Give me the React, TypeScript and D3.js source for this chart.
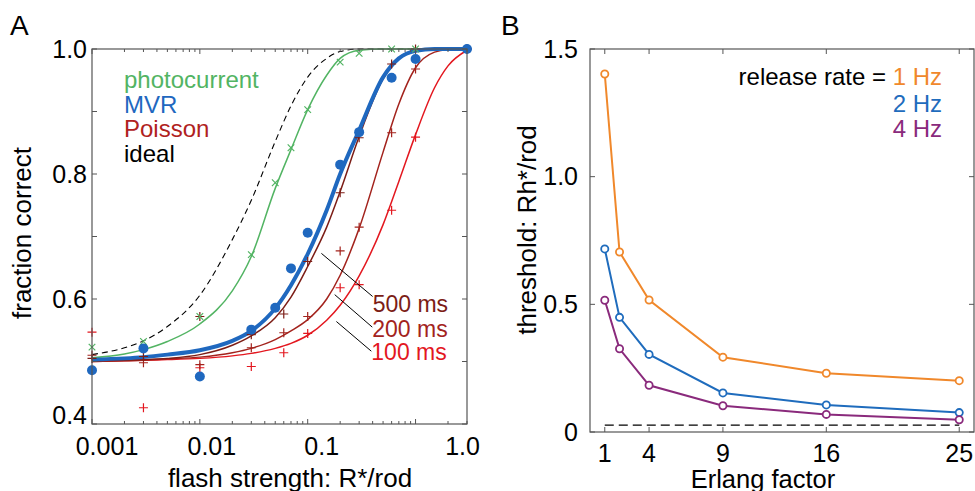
import React from "react";
import * as d3 from "d3";

// ---------- Panel A data ----------
const curveX = [0.001, 0.002, 0.003, 0.005, 0.01, 0.02, 0.03, 0.05, 0.07, 0.1, 0.15, 0.2, 0.3, 0.5, 0.7, 1, 1.5, 2, 3];
const idealCurve = [0.511, 0.522, 0.533, 0.556, 0.606, 0.695, 0.758, 0.852, 0.909, 0.955, 0.985, 0.996, 1, 1, 1, 1, 1, 1, 1];
const photoCurve = [0.506, 0.512, 0.519, 0.532, 0.56, 0.613, 0.668, 0.777, 0.839, 0.903, 0.958, 0.985, 0.998, 1, 1, 1, 1, 1, 1];
const mvrCurve = [0.503, 0.505, 0.507, 0.511, 0.518, 0.533, 0.549, 0.585, 0.622, 0.672, 0.742, 0.8, 0.87, 0.955, 0.985, 0.997, 1, 1, 1];
const p500Curve = [0.501, 0.502, 0.503, 0.505, 0.511, 0.526, 0.541, 0.57, 0.603, 0.652, 0.715, 0.772, 0.86, 0.952, 0.985, 0.998, 1, 1, 1];
const p200Curve = [0.5, 0.501, 0.502, 0.504, 0.507, 0.514, 0.521, 0.535, 0.549, 0.567, 0.6, 0.638, 0.713, 0.835, 0.912, 0.97, 0.995, 0.999, 1];
const p100Curve = [0.5, 0.501, 0.502, 0.503, 0.505, 0.509, 0.513, 0.521, 0.529, 0.542, 0.566, 0.59, 0.637, 0.719, 0.788, 0.863, 0.938, 0.973, 0.998];

const mvrX = [0.001, 0.003, 0.01, 0.03, 0.05, 0.07, 0.1, 0.2, 0.3, 0.6, 1, 3];
const mvrY = [0.486, 0.521, 0.476, 0.551, 0.586, 0.649, 0.706, 0.815, 0.867, 0.954, 0.984, 1.0];
const photoX = [0.001, 0.003, 0.01, 0.03, 0.05, 0.07, 0.1, 0.2, 0.3, 0.6, 1];
const photoY = [0.523, 0.532, 0.572, 0.671, 0.786, 0.842, 0.903, 0.979, 0.993, 1.0, 1.0];
const poissonX = [0.001, 0.003, 0.01, 0.03, 0.06, 0.1, 0.2, 0.3, 0.6, 1, 3];
const p500Y = [0.505, 0.508, 0.572, 0.543, 0.576, 0.66, 0.77, 0.858, 0.976, 1.0, 1.0];
const p200Y = [0.51, 0.498, 0.495, 0.522, 0.546, 0.572, 0.677, 0.715, 0.866, 0.968, 1.0];
const p100Y = [0.547, 0.426, 0.49, 0.492, 0.514, 0.545, 0.618, 0.623, 0.742, 0.859, 1.0];

const xTickValsA = [0.001, 0.01, 0.1, 1];
const xTickLabelsA = ["0.001", "0.01", "0.1", "1.0"];
const yTickValsA = [0.4, 0.6, 0.8, 1.0];
const yTickLabelsA = ["0.4", "0.6", "0.8", "1.0"];
const legendA = ["photocurrent", "MVR", "Poisson", "ideal"];
const durationLabels = ["500 ms", "200 ms", "100 ms"];

// ---------- Panel B data ----------
const erlang = [1, 2, 4, 9, 16, 25];
const rate1Hz = [1.402, 0.705, 0.517, 0.293, 0.23, 0.201];
const rate2Hz = [0.717, 0.449, 0.304, 0.153, 0.106, 0.076];
const rate4Hz = [0.516, 0.326, 0.183, 0.103, 0.069, 0.048];
const idealThreshold = 0.027;
const xTickValsB = [1, 4, 9, 16, 25];
const yTickValsB = [0, 0.5, 1.0, 1.5];
const yTickLabelsB = ["0", "0.5", "1.0", "1.5"];
const rateLabels = ["1 Hz", "2 Hz", "4 Hz"];

// ---------- styling ----------
const FONT = "'Liberation Sans', Arial, Helvetica, sans-serif";
const AX = "#555";
const C_GREEN = "#52b463";
const C_BLUE = "#1f68bf";
const C_500 = "#7c1d16";
const C_200 = "#a3231d";
const C_100 = "#e3171f";
const C_ORANGE = "#f0882b";
const C_BBLUE = "#1f6cbd";
const C_PURPLE = "#8a2a7c";

export default function App() {
  // Panel A scales
  const xA = d3.scaleLog().domain([0.001, 3]).range([92, 467]);
  const yA = d3.scaleLinear().domain([0.4, 1.0]).range([424, 49]);
  const lineA = (ys: number[]) =>
    d3
      .line<number>()
      .x((_, i) => xA(curveX[i]))
      .y((d) => yA(d))
      .curve(d3.curveMonotoneX)(ys) || "";

  // minor ticks for log axis
  const minorA: number[] = [];
  [0.001, 0.01, 0.1, 1].forEach((dec) => {
    for (let k = 2; k <= 9; k++) {
      const v = dec * k;
      if (v <= 3.0001) minorA.push(v);
    }
  });
  const yTicksA = d3.range(0.4, 1.0001, 0.1);
  const xLabelShift = [15, 12, 14, 47];

  // Panel B scales
  const xB = d3.scaleLinear().domain([0, 26]).range([590, 974]);
  const yB = d3.scaleLinear().domain([0, 1.5]).range([432, 49]);
  const lineB = d3
    .line<number>()
    .x((_, i) => xB(erlang[i]))
    .y((d) => yB(d));

  const plus = "M-4.5,0H4.5M0,-4.5V4.5";
  const cross = "M-3.3,-3.3L3.3,3.3M-3.3,3.3L3.3,-3.3";

  const poissonSeries = [
    { ys: p100Y, color: C_100 },
    { ys: p200Y, color: C_200 },
    { ys: p500Y, color: C_500 },
  ];

  // annotation leader lines (data coordinates)
  const leaders = [
    { x1: 0.134, y1: 0.673, x2: 0.4, y2: 0.604, color: C_500 },
    { x1: 0.178, y1: 0.607, x2: 0.397, y2: 0.555, color: C_200 },
    { x1: 0.1845, y1: 0.564, x2: 0.389, y2: 0.5165, color: C_100 },
  ];
  const leaderLabelY = [0.58, 0.54, 0.503];

  const bSeries = [
    { ys: rate1Hz, color: C_ORANGE },
    { ys: rate2Hz, color: C_BBLUE },
    { ys: rate4Hz, color: C_PURPLE },
  ];

  return (
    <svg
      width={975}
      height={491}
      style={{ position: "absolute", left: 0, top: 0, background: "#fff" }}
      fontFamily={FONT}
    >
      {/* ================= Panel A ================= */}
      <text x={10} y={35} fontSize={28}>A</text>

      {/* curves */}
      <path d={lineA(idealCurve)} fill="none" stroke="#000" strokeWidth={1.1} strokeDasharray="6,4" />
      <path d={lineA(photoCurve)} fill="none" stroke={C_GREEN} strokeWidth={1.5} />
      <path d={lineA(p100Curve)} fill="none" stroke={C_100} strokeWidth={1.5} />
      <path d={lineA(p200Curve)} fill="none" stroke={C_200} strokeWidth={1.5} />
      <path d={lineA(p500Curve)} fill="none" stroke={C_500} strokeWidth={1.5} />
      <path d={lineA(mvrCurve)} fill="none" stroke={C_BLUE} strokeWidth={4} />

      {/* markers */}
      {poissonSeries.map((s, si) =>
        s.ys.map((v, i) => (
          <path
            key={`p${si}-${i}`}
            d={plus}
            transform={`translate(${xA(poissonX[i])},${yA(v)})`}
            stroke={s.color}
            strokeWidth={1.2}
            fill="none"
          />
        ))
      )}
      {photoY.map((v, i) => (
        <path
          key={`g${i}`}
          d={cross}
          transform={`translate(${xA(photoX[i])},${yA(v)})`}
          stroke={C_GREEN}
          strokeWidth={1.2}
          fill="none"
        />
      ))}
      {mvrY.map((v, i) => (
        <circle key={`m${i}`} cx={xA(mvrX[i])} cy={yA(v)} r={5} fill={C_BLUE} />
      ))}

      {/* leader lines and labels */}
      {leaders.map((l, i) => (
        <g key={`l${i}`}>
          <line x1={xA(l.x1)} y1={yA(l.y1)} x2={xA(l.x2)} y2={yA(l.y2)} stroke="#000" strokeWidth={1} />
          <text x={xA(l.x2)} y={yA(leaderLabelY[i])} fontSize={23} fill={l.color}>
            {durationLabels[i]}
          </text>
        </g>
      ))}

      {/* legend */}
      {legendA.map((t, i) => (
        <text
          key={t}
          x={124}
          y={88 + i * 24.6}
          fontSize={24}
          fill={[C_GREEN, C_BLUE, "#b0221e", "#000"][i]}
        >
          {t}
        </text>
      ))}

      {/* frame */}
      <rect x={92} y={49} width={375} height={375} fill="none" stroke={AX} strokeWidth={1.2} />
      {xTickValsA.map((v) => (
        <g key={`xa${v}`} stroke={AX} strokeWidth={1}>
          <line x1={xA(v)} x2={xA(v)} y1={424} y2={419} />
          <line x1={xA(v)} x2={xA(v)} y1={49} y2={54} />
        </g>
      ))}
      {minorA.map((v) => (
        <g key={`xm${v}`} stroke={AX} strokeWidth={1}>
          <line x1={xA(v)} x2={xA(v)} y1={424} y2={421} />
          <line x1={xA(v)} x2={xA(v)} y1={49} y2={52} />
        </g>
      ))}
      {yTicksA.map((v) => (
        <g key={`ya${v}`} stroke={AX} strokeWidth={1}>
          <line x1={92} x2={97} y1={yA(v)} y2={yA(v)} />
          <line x1={467} x2={462} y1={yA(v)} y2={yA(v)} />
        </g>
      ))}
      {xTickValsA.map((v, i) => (
        <text key={`xl${v}`} x={xA(v) + xLabelShift[i]} y={455} fontSize={25} textAnchor="middle">
          {xTickLabelsA[i]}
        </text>
      ))}
      {yTickValsA.map((v, i) => (
        <text
          key={`yl${v}`}
          x={87}
          y={yA(v) + (i === 0 ? -9 : 0)}
          dy="0.35em"
          fontSize={25}
          textAnchor="end"
        >
          {yTickLabelsA[i]}
        </text>
      ))}
      <text x={290} y={487} fontSize={26} textAnchor="middle">flash strength: R*/rod</text>
      <text transform="translate(31,233) rotate(-90)" fontSize={26} textAnchor="middle">fraction correct</text>

      {/* ================= Panel B ================= */}
      <text x={501} y={35} fontSize={28}>B</text>

      <line
        x1={xB(1)}
        x2={xB(25)}
        y1={yB(idealThreshold)}
        y2={yB(idealThreshold)}
        stroke="#000"
        strokeWidth={1.1}
        strokeDasharray="9,5"
      />
      {bSeries.map((s, si) => (
        <g key={`b${si}`}>
          <path d={lineB(s.ys) || ""} fill="none" stroke={s.color} strokeWidth={2} />
          {s.ys.map((v, i) => (
            <circle key={i} cx={xB(erlang[i])} cy={yB(v)} r={3.6} fill="#fff" stroke={s.color} strokeWidth={1.8} />
          ))}
        </g>
      ))}

      <rect x={590} y={49} width={384} height={383} fill="none" stroke={AX} strokeWidth={1.2} />
      {xTickValsB.map((v) => (
        <g key={`xb${v}`} stroke={AX} strokeWidth={1}>
          <line x1={xB(v)} x2={xB(v)} y1={432} y2={427} />
          <line x1={xB(v)} x2={xB(v)} y1={49} y2={54} />
        </g>
      ))}
      {yTickValsB.map((v) => (
        <g key={`yb${v}`} stroke={AX} strokeWidth={1}>
          <line x1={590} x2={595} y1={yB(v)} y2={yB(v)} />
          <line x1={974} x2={969} y1={yB(v)} y2={yB(v)} />
        </g>
      ))}
      {xTickValsB.map((v) => (
        <text key={`xbl${v}`} x={xB(v)} y={462} fontSize={25} textAnchor="middle">
          {v}
        </text>
      ))}
      {yTickValsB.map((v, i) => (
        <text key={`ybl${v}`} x={578} y={yB(v)} dy="0.35em" fontSize={25} textAnchor="end">
          {yTickLabelsB[i]}
        </text>
      ))}
      <text x={763} y={488} fontSize={25.5} textAnchor="middle">Erlang factor</text>
      <text transform="translate(536,230) rotate(-90)" fontSize={26} textAnchor="middle">threshold: Rh*/rod</text>

      {/* legend B */}
      <text x={942} y={85} fontSize={24} textAnchor="end">
        release rate = <tspan fill={C_ORANGE}>{rateLabels[0]}</tspan>
      </text>
      <text x={942} y={112} fontSize={24} textAnchor="end" fill={C_BBLUE}>{rateLabels[1]}</text>
      <text x={942} y={137} fontSize={24} textAnchor="end" fill={C_PURPLE}>{rateLabels[2]}</text>
    </svg>
  );
}
